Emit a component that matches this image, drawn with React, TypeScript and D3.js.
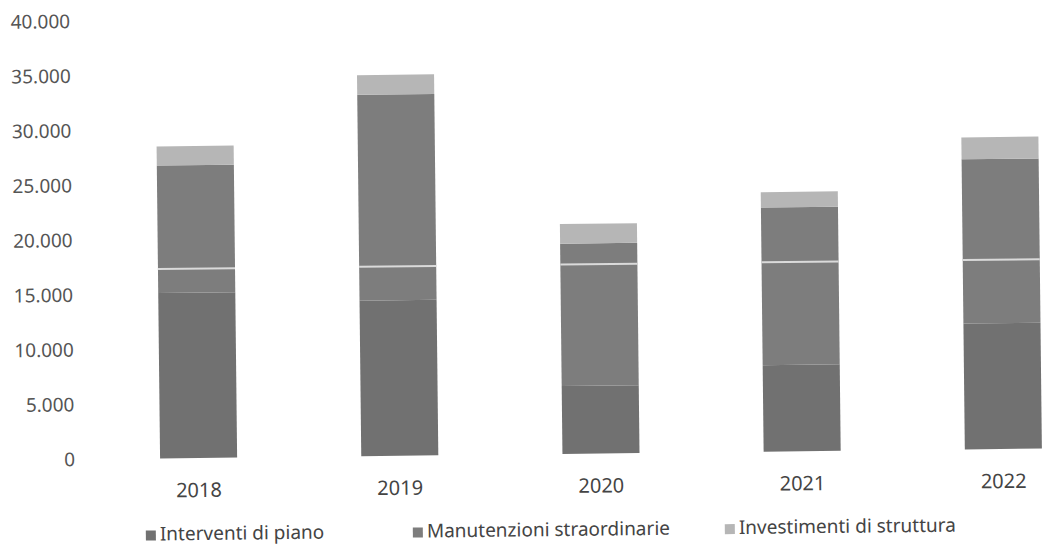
import React, { useEffect, useRef } from 'react';
import * as d3 from 'd3';

// values (thousands separator '.')
const years = ['2018', '2019', '2020', '2021', '2022'];
const interventiDiPiano = [15100, 14200, 6200, 7900, 11500];
const manutenzioniStraordinarie = [11650, 18800, 13000, 14400, 15000];
const investimentiDiStruttura = [1750, 1800, 1800, 1400, 2000];
const seriesNames = ['Interventi di piano', 'Manutenzioni straordinarie', 'Investimenti di struttura'];
const seriesColors = ['#717171', '#7d7d7d', '#b6b6b6'];
const yTicks = [0, 5000, 10000, 15000, 20000, 25000, 30000, 35000, 40000];
const scanLineValue = 17300; // pale line crossing every bar in the scan

const W = 1044;
const H = 546;

const App = () => {
  const svgRef = useRef<SVGSVGElement>(null);

  useEffect(() => {
    const svg = d3.select(svgRef.current);
    svg.selectAll('*').remove();

    const fmt = d3.formatLocale({ decimal: ',', thousands: '.', grouping: [3], currency: ['€', ''] }).format(',d');
    const font = '"Noto Sans", sans-serif';

    const x = d3.scaleBand().domain(years).range([98, 1104]).paddingInner(0.617).paddingOuter(0.3085);
    const y = d3.scaleLinear().domain([0, 40000]).range([458, 20]);

    const rows = years.map((yr, i) => ({
      year: yr,
      a: interventiDiPiano[i],
      b: manutenzioniStraordinarie[i],
      c: investimentiDiStruttura[i],
    }));
    const stack = d3.stack<any>().keys(['a', 'b', 'c'])(rows);

    // the scan is slightly tilted
    const g = svg.append('g').attr('transform', 'rotate(-0.64, 199, 458)');

    // y tick labels
    g.append('g')
      .selectAll('text')
      .data(yTicks)
      .enter()
      .append('text')
      .attr('x', 75)
      .attr('y', d => y(d))
      .attr('dy', '0.35em')
      .attr('text-anchor', 'end')
      .style('font-family', font)
      .style('font-size', '19px')
      .attr('fill', '#555')
      .text(d => fmt(d));

    // bars
    g.append('g')
      .selectAll('g')
      .data(stack)
      .enter()
      .append('g')
      .attr('fill', (d, i) => seriesColors[i])
      .selectAll('rect')
      .data(d => d)
      .enter()
      .append('rect')
      .attr('x', d => x(d.data.year)!)
      .attr('y', d => y(d[1]))
      .attr('width', x.bandwidth())
      .attr('height', d => y(d[0]) - y(d[1]));

    // pale scan line
    g.append('g')
      .selectAll('line')
      .data(years)
      .enter()
      .append('line')
      .attr('x1', d => x(d)!)
      .attr('x2', d => x(d)! + x.bandwidth())
      .attr('y1', y(scanLineValue))
      .attr('y2', y(scanLineValue))
      .attr('stroke', '#dadada')
      .attr('stroke-width', 2);

    // year labels
    g.append('g')
      .selectAll('text')
      .data(years)
      .enter()
      .append('text')
      .attr('x', d => x(d)! + x.bandwidth() / 2)
      .attr('y', 497)
      .attr('text-anchor', 'middle')
      .style('font-family', font)
      .style('font-size', '20px')
      .attr('fill', '#444')
      .text(d => d);

    // legend
    const legendX = [145, 412, 724];
    const legend = g.append('g')
      .selectAll('g')
      .data(seriesNames)
      .enter()
      .append('g')
      .attr('transform', (d, i) => `translate(${legendX[i]}, 540)`);
    legend.append('rect')
      .attr('x', 0)
      .attr('y', -10)
      .attr('width', 10)
      .attr('height', 10)
      .attr('fill', (d, i) => seriesColors[i]);
    legend.append('text')
      .attr('x', 14)
      .attr('y', 0)
      .style('font-family', font)
      .style('font-size', '19px')
      .attr('fill', '#444')
      .text(d => d);
  }, []);

  return (
    <svg
      ref={svgRef}
      width={W}
      height={H}
      style={{ position: 'absolute', left: 0, top: 0, background: '#fff' }}
    ></svg>
  );
};

export default App;
